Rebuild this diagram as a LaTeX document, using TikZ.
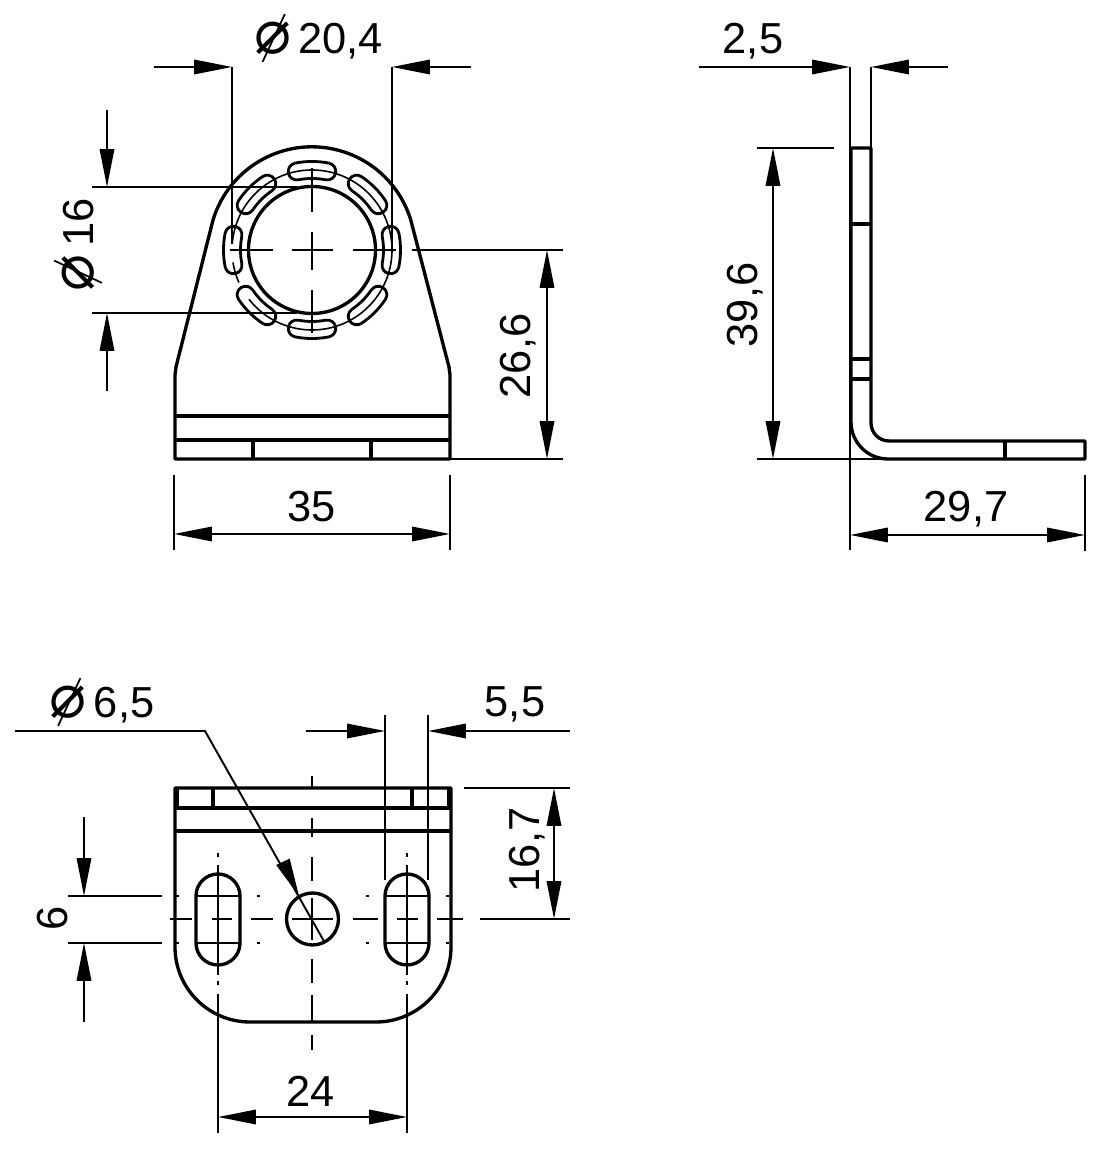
\documentclass[tikz,border=0pt]{standalone}
\usepackage{fontspec}
\setmainfont{Liberation Sans}
\newfontfamily\symfont{DejaVu Sans}
\usetikzlibrary{arrows.meta}
\newsavebox{\diabox}
\newcommand{\dia}{\sbox{\diabox}{\symfont\fontsize{35}{35}\selectfont ⌀}%
  \rlap{\hspace{\dimexpr0.5\wd\diabox-6.2pt\relax}\raisebox{\dimexpr0.5\ht\diabox-0.5\dp\diabox-13.6pt\relax}{\rotatebox{65}{\rule{30pt}{1pt}}}}\usebox{\diabox}}
\begin{document}
\begin{tikzpicture}[x=0.02cm,y=0.02cm,
  part/.style={line width=1.9pt,line join=round},
  thin line/.style={line width=1.1pt},
  pitch line/.style={line width=0.9pt},
  dim both/.style={thin line,{Triangle[length=21.5pt,width=8.2pt]}-{Triangle[length=21.5pt,width=8.2pt]}},
  dim in/.style={thin line,-{Triangle[length=21.5pt,width=8.2pt]}},
  dim text/.style={font=\fontsize{24.7}{28}\selectfont,inner sep=0pt}]

  \useasboundingbox (0,0) rectangle (1101,1149);

  % front view
  \draw[part] (175,690) -- (175,774) -- (176,782) -- (213,929)
    arc[start angle=163,end angle=17,radius=103.4]
    -- (449,782) -- (450,774) -- (450,690) -- cycle;
  \draw[part] (175,733) -- (450,733);
  \draw[part] (175,709) -- (450,709);
  \draw[part] (253,709) -- (253,690);
  \draw[part] (371,709) -- (371,690);
  \draw[part] (312,899) circle[radius=63.5];
  \foreach \a in {0,45,...,315}
    \draw[part,line width=1.6pt,shift={(312,899)}] ({\a-11}:88.5)
      arc[start angle=\a-11,end angle=\a+11,radius=88.5]
      arc[start angle=\a+11,end angle=\a+191,radius=8.5]
      arc[start angle=\a+11,end angle=\a-11,radius=71.5]
      arc[start angle=\a+169,end angle=\a+349,radius=8.5] -- cycle;
  \draw[pitch line,shift={(312,899)}] (218:80) arc[start angle=218,end angle=535,radius=80];
  \draw[pitch line,shift={(312,899)}] (189:80) arc[start angle=189,end angle=204,radius=80];
  \foreach \xa/\xb in {230/273,292/333,353/396}
    \draw[thin line] (\xa,899) -- (\xb,899);
  \foreach \ya/\yb in {981/937,917/879,859/816}
    \draw[thin line] (312,\ya) -- (312,\yb);

  % front view dimensions
  \draw[thin line] (232,1082) -- (232,905);
  \draw[thin line] (392,1082) -- (392,899);
  \draw[dim in] (154,1082) -- (232,1082);
  \draw[dim in] (471,1082) -- (392,1082);
  \node[dim text] (diaouter) at (318.5,1111) {\dia\,20,4};
  \draw[thin line] (92,962) -- (297,962);
  \draw[thin line] (92,836) -- (297,836);
  \draw[dim in] (107,1039) -- (107,962);
  \draw[dim in] (107,758) -- (107,836);
  \node[dim text,rotate=90] (diainner) at (78,904) {\dia\,16};
  \draw[thin line] (412,899) -- (563,899);
  \draw[thin line] (450,690) -- (563,690);
  \draw[dim both] (547,899) -- (547,690);
  \node[dim text,rotate=90] (heightfront) at (518,793) {26,6};
  \draw[thin line] (174,674) -- (174,599);
  \draw[thin line] (450,674) -- (450,599);
  \draw[dim both] (174,615) -- (450,615);
  \node[dim text] (widthfront) at (312,642) {35};

  % side view
  \draw[part] (851,1001) -- (871,1001) -- (871,726)
    arc[start angle=180,end angle=270,radius=18]
    -- (1085,708) -- (1085,690) -- (888,690)
    arc[start angle=270,end angle=180,radius=37] -- cycle;
  \foreach \y in {925,790,770}
    \draw[part] (851,\y) -- (871,\y);
  \draw[part] (1005,708) -- (1005,690);

  % side view dimensions
  \draw[thin line] (850,1082) -- (850,599);
  \draw[thin line] (871,1082) -- (871,1001);
  \draw[dim in] (699,1082) -- (850,1082);
  \draw[dim in] (948,1082) -- (871,1082);
  \node[dim text] (thickness) at (753,1108) {2,5};
  \draw[thin line] (757,1001) -- (834,1001);
  \draw[thin line] (757,690) -- (887,690);
  \draw[dim both] (773,1001) -- (773,690);
  \node[dim text,rotate=90] (heightside) at (745,844) {39,6};
  \draw[thin line] (1085,674) -- (1085,598);
  \draw[dim both] (850,614) -- (1085,614);
  \node[dim text] (widthside) at (966,640) {29,7};

  % bottom view
  \draw[part] (175,361) -- (451,361) -- (451,202)
    arc[start angle=0,end angle=-90,radius=75]
    -- (250,127) arc[start angle=270,end angle=180,radius=75] -- cycle;
  \fill (175,361) rectangle (178.5,341);
  \fill (447,361) rectangle (451,341);
  \draw[part] (175,341) -- (451,341);
  \draw[part] (175,318) -- (451,318);
  \draw[part] (213,361) -- (213,341);
  \draw[part] (412,361) -- (412,341);
  \foreach \x in {218,407}
    \draw[part] (\x-22,253) arc[start angle=180,end angle=0,radius=22]
      -- (\x+22,206) arc[start angle=0,end angle=-180,radius=22] -- cycle;
  \draw[part] (312.5,230) circle[radius=26];

  % bottom view center lines
  \foreach \xa/\xb in {170/192,212/232,251/273,292/333,353/378,397/418,437/463}
    \draw[thin line] (\xa,230) -- (\xb,230);
  \foreach \ya/\yb in {373/360,331/312,292/268,251/209,190/166,154/127,114/99}
    \draw[thin line] (312,\ya) -- (312,\yb);
  \foreach \x in {218,407} {
    \draw[thin line] (\x,296) -- (\x,292);
    \draw[thin line] (\x,284) -- (\x,174);
    \draw[thin line] (\x,168) -- (\x,164);
    \draw[thin line] (\x,155) -- (\x,16);
  }
  \foreach \y in {253,206} {
    \draw[thin line] (68,\y) -- (162,\y);
    \draw[thin line] (196,\y) -- (240,\y);
    \draw[thin line] (385,\y) -- (429,\y);
    \foreach \x in {177,258,367,447}
      \draw[thin line] (\x-1.5,\y) -- (\x+1.5,\y);
  }

  % bottom view dimensions
  \draw[thin line] (15,418) -- (205,418) -- (325,206);
  \draw[dim in] (283,287) -- (299,253);
  \node[dim text] (diahole) at (102,447) {\dia\,6,5};
  \draw[thin line] (385,434) -- (385,269);
  \draw[thin line] (428,434) -- (428,269);
  \draw[dim in] (306,418) -- (385,418);
  \draw[dim in] (570,418) -- (428,418);
  \node[dim text] (slotwidth) at (515,445) {5,5};
  \draw[thin line] (464,361) -- (570,361);
  \draw[thin line] (480,230) -- (570,230);
  \draw[dim both] (554,361) -- (554,230);
  \node[dim text,rotate=90] (slotdepth) at (527,299) {16,7};
  \draw[dim in] (84,332) -- (84,253);
  \draw[dim in] (84,127) -- (84,206);
  \node[dim text,rotate=90] (slotheight) at (53,231) {6};
  \draw[dim both] (218,32) -- (407,32);
  \node[dim text] (slotdist) at (311,58) {24};
\end{tikzpicture}
\end{document}
